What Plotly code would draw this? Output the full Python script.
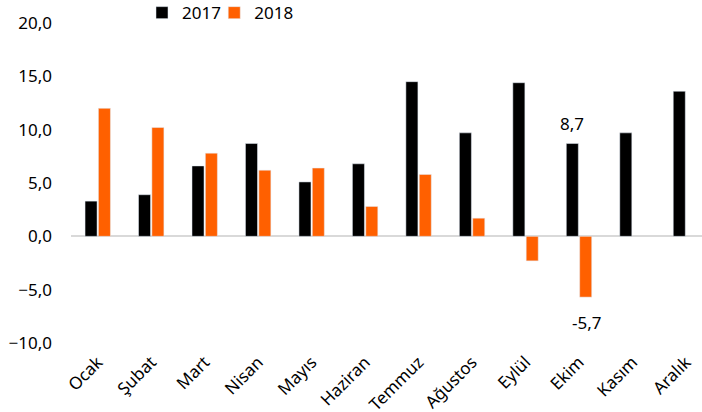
import plotly.graph_objects as go

months = ["Ocak", "Şubat", "Mart", "Nisan", "Mayıs", "Haziran", "Temmuz",
          "Ağustos", "Eylül", "Ekim", "Kasım", "Aralık"]
v2017 = [3.3, 3.9, 6.6, 8.7, 5.1, 6.8, 14.5, 9.7, 14.4, 8.7, 9.7, 13.6]
v2018 = [12.0, 10.2, 7.8, 6.2, 6.4, 2.8, 5.8, 1.7, -2.3, -5.7, None, None]
label2017 = ["", "", "", "", "", "", "", "", "", "8,7", "", ""]
label2018 = ["", "", "", "", "", "", "", "", "", "-5,7", "", ""]
yticks = [-10, -5, 0, 5, 10, 15, 20]

FONT = "Noto Sans"
FS = 17

fig = go.Figure()
fig.add_trace(go.Bar(name="2017", x=months, y=v2017, marker_color="#000000",
                     legend="legend"))
fig.add_trace(go.Bar(name="2018", x=months, y=v2018, marker_color="#FF6000",
                     legend="legend2"))

# value labels (from the label arrays)
for series, labels, xs in ((v2017, label2017, -7), (v2018, label2018, 7)):
    for m, v, t in zip(months, series, labels):
        if t and v is not None:
            fig.add_annotation(x=m, y=v, text=t, showarrow=False,
                               xshift=xs, yshift=20 if v >= 0 else -25,
                               yanchor="middle",
                               font=dict(size=FS, family=FONT, color="#000000"))

leg_common = dict(orientation="h", y=1.031, xanchor="left", yanchor="middle",
                  font=dict(size=FS, family=FONT), itemwidth=30,
                  bgcolor="rgba(0,0,0,0)")

fig.update_layout(
    width=702, height=412,
    margin=dict(l=71, r=0, t=23, b=69, autoexpand=False),
    paper_bgcolor="white", plot_bgcolor="white",
    font=dict(family=FONT, size=FS, color="#000000"),
    separators=",.",
    barmode="group", bargap=0.5, bargroupgap=0.1,
    showlegend=True,
    legend=dict(x=0.1125, **leg_common),
    legend2=dict(x=0.227, **leg_common),
)
fig.update_xaxes(
    range=[-0.5, 11.3], tickangle=-45, showgrid=False, showline=False,
    ticks="", zeroline=False, tickfont=dict(size=FS, family=FONT),
    automargin=False, ticklabelstandoff=5,
)
fig.update_yaxes(
    range=[-10, 20], tickvals=yticks, tickformat=".1f", showgrid=False,
    zeroline=True, zerolinecolor="#D9D9D9", zerolinewidth=2,
    showline=False, ticks="", ticklabelstandoff=18, automargin=False,
    tickfont=dict(size=FS, family=FONT),
)

fig.write_html("out.html", config={"displayModeBar": False},
               post_script="document.body.style.margin='0';")
